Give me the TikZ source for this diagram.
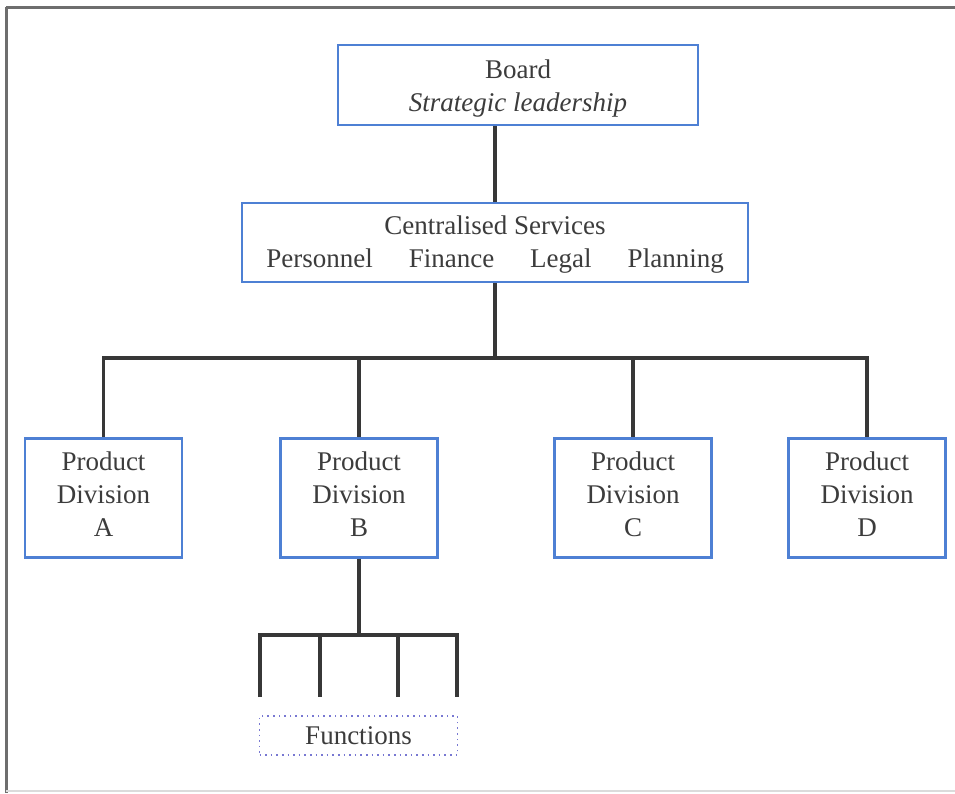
\documentclass[tikz,border=0pt]{standalone}
\usepackage{fontspec}
\setmainfont{Liberation Serif}
\definecolor{boxblue}{RGB}{78,128,212}
\definecolor{dotblue}{RGB}{120,120,210}
\definecolor{linegray}{RGB}{55,55,55}
\definecolor{txtgray}{RGB}{60,60,60}
\definecolor{framegray}{RGB}{110,110,110}
\tikzset{
  unitbox/.style={draw=boxblue, line width=2.4pt, fill=white, inner sep=0pt},
  unittext/.style={inner sep=0pt, align=center, text=txtgray,
    font=\fontsize{27}{33}\selectfont},
  funcbox/.style={draw=dotblue, line width=1.6pt, dash pattern=on 1.6pt off 4pt,
    inner sep=0pt, align=center, text=txtgray, font=\fontsize{27}{33}\selectfont},
  link/.style={draw=linegray, line width=3.1pt},
  frameline/.style={draw=framegray, line width=3pt}
}
\begin{document}
\begin{tikzpicture}[x=1pt, y=-1pt]
  \useasboundingbox (0,0) rectangle (955,793);
  % outer frame
  \draw[frameline] (6,7) -- (955,7);
  \draw[frameline] (6,7) -- (6,793);
  \draw[draw=framegray!25, line width=1.5pt] (6,791) -- (955,791);

  % board and services
  \node[unitbox, minimum width=360pt, minimum height=80pt] (board) at (518,85) {};
  \node[unittext] (boardtxt) at (518,88.5) {Board\\\textit{Strategic leadership}};
  \node[unitbox, minimum width=506pt, minimum height=79pt] (cs) at (495,242.5) {};
  \node[unittext] (cstxt) at (495,244.5)
    {Centralised Services\\Personnel\hspace*{36pt}Finance\hspace*{36pt}Legal\hspace*{36pt}Planning};

  % product divisions
  \node[unitbox, minimum width=157pt, minimum height=119pt] (divA) at (103.5,498) {};
  \node[unitbox, minimum width=157pt, minimum height=119pt] (divB) at (359,498) {};
  \node[unitbox, minimum width=157pt, minimum height=119pt] (divC) at (633,498) {};
  \node[unitbox, minimum width=157pt, minimum height=119pt] (divD) at (867,498) {};
  \node[unittext] (txtA) at (103.5,494) {Product\\Division\\A};
  \node[unittext] (txtB) at (359,494) {Product\\Division\\B};
  \node[unittext] (txtC) at (633,494) {Product\\Division\\C};
  \node[unittext] (txtD) at (867,494) {Product\\Division\\D};

  % functions
  \node[funcbox, minimum width=198pt, minimum height=39pt] (func) at (358.5,735.5) {Functions};

  % connector points
  \coordinate (bus) at (495,358);
  \coordinate (subbus) at (359,635);
  \coordinate (f1) at (260,697);
  \coordinate (f2) at (320,697);
  \coordinate (f3) at (398,697);
  \coordinate (f4) at (457,697);

  % connectors
  \draw[link] (board.south -| cs.north) -- (cs.north);
  \draw[link] (cs.south) -- (bus);
  \draw[link] (divA.north) -- (divA.north |- bus) -- (divD.north |- bus) -- (divD.north);
  \draw[link] (divB.north |- bus) -- (divB.north);
  \draw[link] (divC.north |- bus) -- (divC.north);

  \draw[link] (divB.south) -- (subbus);
  \draw[link] (f1) -- (f1 |- subbus) -- (f4 |- subbus) -- (f4);
  \draw[link] (f2 |- subbus) -- (f2);
  \draw[link] (f3 |- subbus) -- (f3);
\end{tikzpicture}
\end{document}
